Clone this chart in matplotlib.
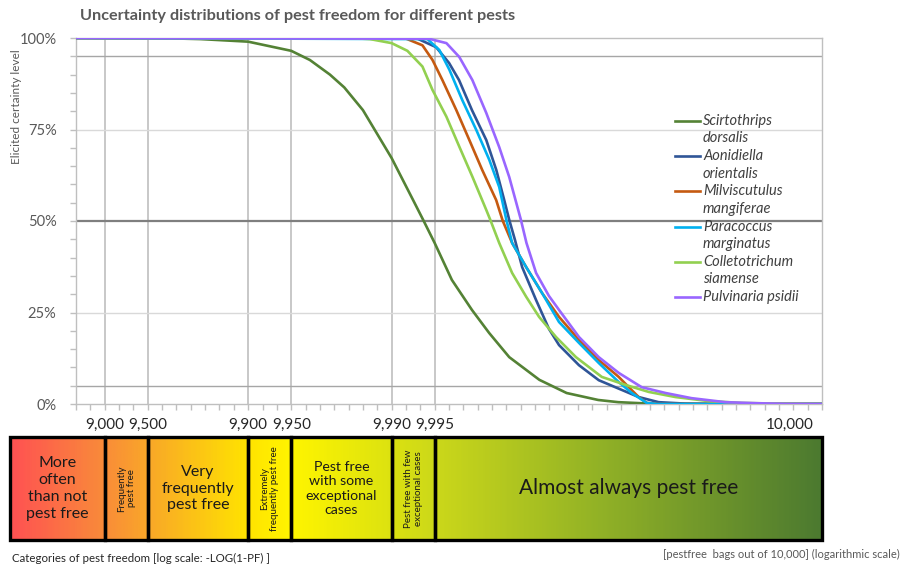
import numpy as np
import matplotlib
matplotlib.use("Agg")
import matplotlib.pyplot as plt
import matplotlib.ticker as ticker
from matplotlib.colors import LinearSegmentedColormap
from matplotlib.patches import Rectangle

plt.rcParams["font.family"] = ["Lato", "DejaVu Sans"]

# x values are -log10(1 - PF); y values are elicited certainty (%)
scirt_x = [0.8, 1.46, 1.67, 2.0, 2.3, 2.43, 2.57, 2.67, 2.8, 3.0, 3.15, 3.22, 3.3, 3.42, 3.56, 3.68, 3.82, 4.03, 4.22, 4.44, 4.58, 4.86, 6.0]
scirt_y = [100, 99.9, 99.7, 99.0, 96.5, 94.0, 90.0, 86.5, 80.3, 67.2, 55.7, 50.3, 44.0, 33.9, 25.7, 19.4, 12.8, 6.6, 3.0, 1.1, 0.5, 0.0, 0.0]

aoni_x = [0.8, 3.17, 3.31, 3.40, 3.47, 3.56, 3.66, 3.73, 3.785, 3.82, 3.86, 3.91, 4.007, 4.097, 4.167, 4.306, 4.444, 4.583, 4.722, 4.861, 5.05, 5.3, 6.0]
aoni_y = [100, 100, 97.5, 93.2, 88.5, 80.3, 72.1, 63.9, 55.7, 50.3, 44.8, 37.4, 28.4, 20.5, 16.1, 10.6, 6.5, 4.2, 1.9, 0.5, 0.1, 0.0, 0.0]

milv_x = [0.8, 3.09, 3.215, 3.285, 3.354, 3.451, 3.542, 3.632, 3.729, 3.775, 3.84, 3.938, 4.049, 4.167, 4.306, 4.444, 4.583, 4.653, 4.722, 4.778, 4.85, 6.0]
milv_y = [100, 100, 98.0, 94.0, 88.5, 80.3, 72.1, 63.9, 55.7, 50.0, 44.0, 37.4, 30.3, 23.8, 17.5, 12.0, 7.4, 4.6, 1.9, 0.3, 0.0, 0.0]

para_x = [0.8, 3.25, 3.333, 3.403, 3.493, 3.59, 3.681, 3.75, 3.80, 3.84, 3.938, 4.049, 4.167, 4.306, 4.444, 4.583, 4.674, 4.778, 4.85, 6.0]
para_y = [100, 99.7, 96.7, 91.3, 83.0, 74.9, 66.7, 59.3, 50.3, 44.0, 37.4, 30.3, 22.4, 16.7, 11.2, 6.0, 3.0, 0.3, 0.0, 0.0]

coll_x = [0.8, 2.71, 2.85, 3.0, 3.11, 3.215, 3.285, 3.382, 3.472, 3.563, 3.66, 3.688, 3.75, 3.84, 3.938, 4.028, 4.146, 4.285, 4.465, 4.632, 4.792, 4.979, 5.208, 5.438, 5.7, 6.0]
coll_y = [100, 100, 99.7, 98.6, 96.5, 92.2, 85.8, 78.5, 70.3, 62.1, 53.0, 50.3, 44.0, 35.8, 29.3, 23.8, 18.3, 12.8, 7.4, 5.2, 3.3, 1.9, 0.8, 0.3, 0.1, 0.0]

pulv_x = [0.8, 3.26, 3.382, 3.472, 3.563, 3.66, 3.75, 3.82, 3.9, 3.94, 4.007, 4.097, 4.167, 4.306, 4.444, 4.583, 4.743, 4.91, 5.09, 5.326, 5.556, 5.75, 6.0]
pulv_y = [100, 99.8, 98.6, 94.8, 88.5, 79.5, 70.2, 62.0, 50.5, 44.0, 35.8, 29.5, 25.7, 18.3, 12.8, 8.5, 4.6, 3.0, 1.6, 0.5, 0.2, 0.05, 0.0]

series = [
    ("Scirtothrips\ndorsalis", scirt_x, scirt_y, "#548235"),
    ("Aonidiella\norientalis", aoni_x, aoni_y, "#2F5597"),
    ("Milviscutulus\nmangiferae", milv_x, milv_y, "#C55A11"),
    ("Paracoccus\nmarginatus", para_x, para_y, "#00B0F0"),
    ("Colletotrichum\nsiamense", coll_x, coll_y, "#92D050"),
    ("Pulvinaria psidii", pulv_x, pulv_y, "#9966FF"),
]

# category boundaries in pest-free bags out of 10,000
bag_counts = [9000, 9500, 9900, 9950, 9990, 9995]
bag_labels = ["9,000", "9,500", "9,900", "9,950", "9,990", "9,995"]
categories = [
    ("More\noften\nthan not\npest free", 11.5, 0),
    ("Frequently\npest free", 7, 90),
    ("Very\nfrequently\npest free", 11.5, 0),
    ("Extremely\nfrequently pest free", 7, 90),
    ("Pest free\nwith some\nexceptional\ncases", 10.2, 0),
    ("Pest free with few\nexceptional cases", 7, 90),
    ("Almost always pest free", 15, 0),
]
bounds = [-np.log10(1 - n / 10000) for n in bag_counts]

W, H = 902, 569
x_lo, x_hi = 0.8, 6.0
fig = plt.figure(figsize=(W / 100, H / 100), dpi=100)

# main chart, placed by pixel edges
L, R, T, B = 76, 822, 38, 404
ax = fig.add_axes([L / W, 1 - B / H, (R - L) / W, (B - T) / H])
ax.set_xlim(x_lo, x_hi)
ax.set_ylim(0, 1)

for b in bounds:
    ax.axvline(b, color="#BFBFBF", lw=1.2, zorder=1)
for yv, c, w in [(0.25, "#D9D9D9", 1.0), (0.75, "#D9D9D9", 1.0),
                 (0.05, "#A6A6A6", 1.0), (0.95, "#A6A6A6", 1.0),
                 (0.5, "#7F7F7F", 1.6)]:
    ax.axhline(yv, color=c, lw=w, zorder=1)

for name, xs, ys, col in series:
    ax.plot(xs, np.array(ys) / 100, color=col, lw=1.9, zorder=3,
            solid_joinstyle="round")

for s in ax.spines.values():
    s.set_color("#BFBFBF")
    s.set_linewidth(1.0)

ax.xaxis.set_major_locator(ticker.MultipleLocator(0.1))
ax.xaxis.set_major_formatter(ticker.NullFormatter())
ax.tick_params(axis="x", length=4, color="#BFBFBF", width=1)
ax.yaxis.set_major_locator(ticker.MultipleLocator(0.25))
ax.yaxis.set_minor_locator(ticker.MultipleLocator(0.05))
ax.yaxis.set_major_formatter(ticker.PercentFormatter(1.0, decimals=0))
ax.tick_params(axis="y", which="both", length=4, color="#BFBFBF", width=1,
               labelsize=10.5, labelcolor="#595959", pad=10)

# legend drawn Excel style: handle beside first line of wrapped label
lx0, lx1, ltx = (675 - L) / (R - L), (700 - L) / (R - L), (703 - L) / (R - L)
for i, (name, xs, ys, col) in enumerate(series):
    yy = (B - (121 + i * 35.2)) / (B - T)
    ax.plot([lx0, lx1], [yy, yy], transform=ax.transAxes, color=col, lw=1.9,
            clip_on=False, zorder=4)
    for j, line in enumerate(name.split("\n")):
        ax.text(ltx, yy - j * 17.5 / (B - T), line, transform=ax.transAxes,
                style="italic", fontsize=10.5, color="#404040", va="center", ha="left")

fig.text(80 / W, 1 - 16 / H, "Uncertainty distributions of pest freedom for different pests",
         fontsize=11.7, fontweight="bold", color="#595959", va="center", ha="left")
fig.text(17 / W, 1 - 107 / H, "Elicited certainty level", rotation=90, fontsize=8.5,
         color="#595959", va="center", ha="center")

# category boxes below the chart
bL, bR, bT, bB = 10, 822, 437, 540
bx = fig.add_axes([bL / W, 1 - bB / H, (bR - bL) / W, (bB - bT) / H])
bx_lo = x_lo - (L - bL) / (R - L) * (x_hi - x_lo)
bx.set_xlim(bx_lo, x_hi)
bx.set_ylim(0, 1)
bx.axis("off")

grad = LinearSegmentedColormap.from_list("pf", [
    (0.0, "#FF5252"), (0.111, "#F98A3A"), (0.17, "#F9A828"), (0.293, "#FFE400"),
    (0.346, "#FFF500"), (0.47, "#DCE210"), (0.523, "#CCD81A"), (0.726, "#92B226"),
    (1.0, "#4C7A30")])
bx.imshow(np.linspace(0, 1, 400)[None, :], aspect="auto", cmap=grad,
          extent=[bx_lo, x_hi, 0, 1], zorder=0)

edges = [bx_lo] + bounds + [x_hi]
for k, (label, fs, rot) in enumerate(categories):
    a, b = edges[k], edges[k + 1]
    bx.add_patch(Rectangle((a, 0), b - a, 1, fill=False, ec="black", lw=2.4,
                           zorder=2, clip_on=False))
    bx.text((a + b) / 2, 0.5, label, ha="center", va="center", fontsize=fs,
            rotation=rot, color="#1A1A1A", linespacing=1.25 if rot == 0 else 1.1)

for b, lab in zip(bounds, bag_labels):
    bx.text(b, 1.05, lab, ha="center", va="bottom", fontsize=11, color="#262626")
bx.text(0.99, 1.05, "10,000", transform=bx.transAxes, ha="right", va="bottom",
        fontsize=11, color="#262626")

fig.text(12 / W, 1 - 558 / H, "Categories of pest freedom [log scale: -LOG(1-PF) ]",
         fontsize=8.3, color="#262626", va="center", ha="left")
fig.text(900 / W, 1 - 554 / H, "[pestfree  bags out of 10,000] (logarithmic scale)",
         fontsize=8, color="#595959", va="center", ha="right")

fig.savefig("out.png", dpi=100)
